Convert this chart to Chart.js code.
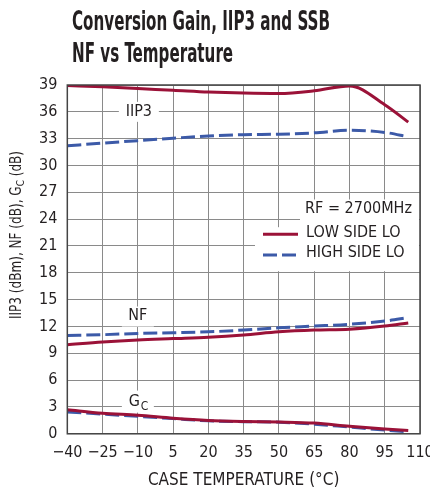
<!DOCTYPE html>
<html>
<head>
<meta charset="utf-8">
<script src="https://cdn.jsdelivr.net/npm/chart.js@4"></script>
<style>
  html, body { margin: 0; padding: 0; background: #fff; overflow: hidden; }
  #wrap { position: relative; width: 445px; height: 489px; }
  #title {
    position: absolute; left: 72px; top: 5px;
    font-family: 'DejaVu Sans Condensed', 'DejaVu Sans', sans-serif;
    font-weight: bold; font-size: 26px; line-height: 32px; color: #231f20;
    white-space: nowrap; transform-origin: 0 0;
  }
</style>
</head>
<body>
<div id="wrap">
  <canvas id="chart" width="445" height="489"></canvas>
  <div id="title"><span id="t1">Conversion Gain, IIP3 and SSB</span><br>NF vs Temperature</div>
</div>
<script>
const temps = [-40, -25, -10, 5, 20, 35, 50, 65, 80, 95, 105];
const iip3Low = [38.95, 38.8, 38.6, 38.42, 38.22, 38.1, 38.05, 38.35, 38.9, 36.8, 34.85];
const iip3High = [32.2, 32.5, 32.78, 33.05, 33.3, 33.45, 33.5, 33.65, 33.95, 33.7, 33.2];
const nfLow = [9.95, 10.27, 10.5, 10.65, 10.8, 11.05, 11.4, 11.6, 11.7, 12.05, 12.4];
const nfHigh = [11.0, 11.08, 11.22, 11.3, 11.4, 11.6, 11.86, 12.05, 12.25, 12.6, 13.0];
const gcLow = [2.7, 2.3, 2.08, 1.75, 1.5, 1.38, 1.32, 1.2, 0.85, 0.55, 0.38];
const gcHigh = [2.45, 2.2, 1.95, 1.7, 1.45, 1.35, 1.3, 1.08, 0.75, 0.42, 0.22];

const RED = '#9b1238';
const BLUE = '#3c5aa8';
const FONT = "'DejaVu Sans Condensed', 'DejaVu Sans', sans-serif";
const TXT = '#231f20';

// squeeze the title to the width of the original condensed type
const t1 = document.getElementById('t1');
document.getElementById('title').style.transform = 'scaleX(' + (258 / t1.getBoundingClientRect().width) + ')';

const pts = (ys) => temps.map((t, i) => ({ x: t, y: ys[i] }));

function lowSet(ys) {
  return { data: pts(ys), borderColor: RED, borderWidth: 3, pointRadius: 0, cubicInterpolationMode: 'monotone', fill: false };
}
function highSet(ys) {
  return { data: pts(ys), borderColor: BLUE, borderWidth: 3, borderDash: [14, 5], pointRadius: 0, cubicInterpolationMode: 'monotone', fill: false };
}

// labels, legend, frame and y title
const extras = {
  id: 'extras',
  beforeDatasetsDraw(chart) {
    const { ctx, chartArea: a, scales: { x, y } } = chart;
    ctx.save();
    ctx.fillStyle = '#fff';
    // label backgrounds
    ctx.fillRect(x.getPixelForValue(-10) - 19, y.getPixelForValue(36) - 10, 40, 20);
    ctx.fillRect(x.getPixelForValue(-10) - 16, y.getPixelForValue(13) - 11, 32, 20);
    ctx.fillRect(x.getPixelForValue(-10) - 16, y.getPixelForValue(3.6) - 11, 32, 22);
    // legend backgrounds
    ctx.fillRect(a.right - 120, y.getPixelForValue(26.2), 119, 28);
    ctx.fillRect(a.right - 165, y.getPixelForValue(23.1), 164, 44);
    ctx.restore();
  },
  afterDatasetsDraw(chart) {
    const { ctx, chartArea: a, scales: { x, y } } = chart;
    ctx.save();
    ctx.strokeStyle = '#444';
    ctx.lineWidth = 1.5;
    ctx.strokeRect(a.left, a.top, a.right - a.left, a.bottom - a.top);

    ctx.fillStyle = TXT;
    ctx.font = '16px ' + FONT;
    ctx.textBaseline = 'middle';
    ctx.textAlign = 'center';
    const cx = x.getPixelForValue(-10);
    ctx.fillText('IIP3', cx + 1, y.getPixelForValue(36));
    ctx.fillText('NF', cx, y.getPixelForValue(13.2));
    ctx.textAlign = 'left';
    ctx.fillText('G', cx - 9, y.getPixelForValue(3.6));
    ctx.font = '12px ' + FONT;
    ctx.fillText('C', cx + 3, y.getPixelForValue(3.6) + 5);

    // legend
    ctx.font = '16px ' + FONT;
    ctx.textAlign = 'right';
    ctx.fillText('RF = 2700MHz', a.right - 8, y.getPixelForValue(25.1));
    ctx.textAlign = 'left';
    ctx.fillText('LOW SIDE LO', a.right - 114, y.getPixelForValue(22.5));
    ctx.fillText('HIGH SIDE LO', a.right - 114, y.getPixelForValue(20.2));
    ctx.lineWidth = 3;
    ctx.strokeStyle = RED;
    ctx.beginPath();
    ctx.moveTo(a.right - 157, y.getPixelForValue(22.3));
    ctx.lineTo(a.right - 122, y.getPixelForValue(22.3));
    ctx.stroke();
    ctx.strokeStyle = BLUE;
    ctx.setLineDash([14, 5]);
    ctx.beginPath();
    ctx.moveTo(a.right - 157, y.getPixelForValue(20.0));
    ctx.lineTo(a.right - 122, y.getPixelForValue(20.0));
    ctx.stroke();
    ctx.setLineDash([]);

    // y axis title with subscript, squeezed to the original length
    ctx.translate(17, 235);
    ctx.rotate(-Math.PI / 2);
    const p1 = 'IIP3 (dBm), NF (dB), G';
    const p2 = ' (dB)';
    ctx.font = '11px ' + FONT;
    const wc = ctx.measureText('C').width;
    ctx.font = '15px ' + FONT;
    const w1 = ctx.measureText(p1).width;
    const w2 = ctx.measureText(p2).width;
    const total = w1 + wc + w2;
    ctx.scale(168 / total, 1);
    let sx = -total / 2;
    ctx.textAlign = 'left';
    ctx.fillText(p1, sx, 0);
    ctx.font = '11px ' + FONT;
    ctx.fillText('C', sx + w1, 4);
    ctx.font = '15px ' + FONT;
    ctx.fillText(p2, sx + w1 + wc, 0);
    ctx.restore();
  }
};

new Chart(document.getElementById('chart'), {
  type: 'line',
  data: {
    datasets: [
      lowSet(iip3Low), highSet(iip3High),
      lowSet(nfLow), highSet(nfHigh),
      lowSet(gcLow), highSet(gcHigh)
    ]
  },
  options: {
    responsive: false,
    animation: false,
    layout: { padding: { left: 29, top: 85, right: 25, bottom: 0 } },
    plugins: { legend: { display: false }, tooltip: { enabled: false } },
    scales: {
      x: {
        type: 'linear', min: -40, max: 110,
        grid: { color: '#8a8a8a', lineWidth: 1, drawTicks: false },
        border: { display: false },
        ticks: {
          stepSize: 15, padding: 9, color: TXT, maxRotation: 0, minRotation: 0, autoSkip: false,
          font: { family: FONT, size: 16 },
          callback: (v) => String(v).replace('-', '\u2212')
        },
        title: { display: true, text: 'CASE TEMPERATURE (°C)', color: TXT, font: { family: FONT, size: 17, lineHeight: 1 }, padding: { top: 1, bottom: 0 } }
      },
      y: {
        min: 0, max: 39,
        grid: { color: '#8a8a8a', lineWidth: 1, drawTicks: false },
        border: { display: false },
        ticks: { stepSize: 3, padding: 10, color: TXT, font: { family: FONT, size: 16 } }
      }
    }
  },
  plugins: [extras]
});
</script>
</body>
</html>
